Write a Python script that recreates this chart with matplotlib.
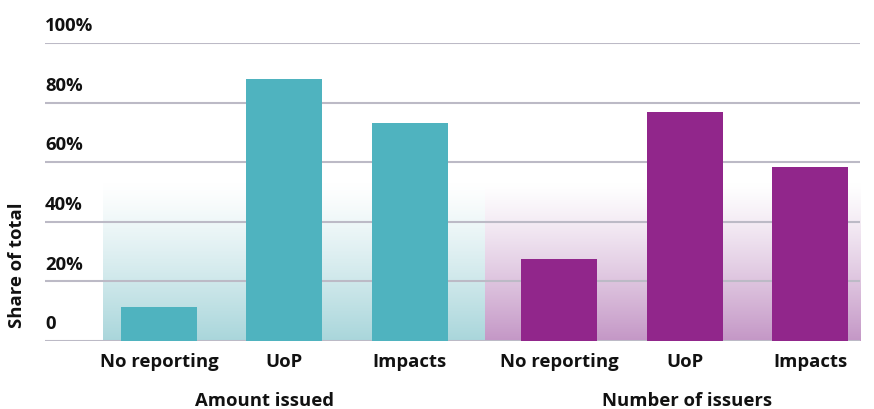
import matplotlib.pyplot as plt
import matplotlib.colors as mcolors
import matplotlib.transforms as mtransforms
import numpy as np

plt.rcParams['font.family'] = ['Open Sans', 'DejaVu Sans']
plt.rcParams['font.weight'] = 'bold'

groups = ["Amount issued", "Number of issuers"]
categories = ["No reporting", "UoP", "Impacts"]
amount_issued = [11.5, 87.9, 73.2]
number_of_issuers = [27.5, 76.8, 58.4]
yticks = [0, 20, 40, 60, 80, 100]
ytick_labels = ["0", "20%", "40%", "60%", "80%", "100%"]

teal = "#4fb3bf"
purple = "#91268b"
grid_col = "#bcbac6"
ink = "#111111"
fs = 13.3

W, H = 874, 410
fig = plt.figure(figsize=(W / 100, H / 100), dpi=100)
ax = fig.add_axes([45 / W, (H - 342) / H, (860 - 45) / W, (342 - 44) / H])

gap = 1.19
x1 = np.arange(3)
x2 = np.arange(3) + 3 + (gap - 1)
bw = 0.605

# faded gradient panels behind each group (white at top -> tint at bottom)
def panel(xa, xb, color, top=53):
    rgb = np.array(mcolors.to_rgb(color))
    t = np.linspace(0, 1, 256)[:, None, None] ** 1.2
    img = 1 - (1 - rgb)[None, None, :] * t
    ax.imshow(img, extent=(xa, xb, 0, top), aspect='auto', zorder=0,
              interpolation='bilinear', origin='upper')

panel(-0.446, 2.594, "#a9d6db")
panel(2.594, 5.586, "#c497c6")
ax.set_xlim(-0.908, 5.586)
ax.set_ylim(0, 100)

for v in yticks:
    ax.axhline(v, color=grid_col, lw=1.5, zorder=1)

ax.bar(x1, amount_issued, width=bw, color=teal, zorder=2)
ax.bar(x2, number_of_issuers, width=bw, color=purple, zorder=2)

for s in ax.spines.values():
    s.set_visible(False)
ax.set_xticks([])
ax.set_yticks([])

trans = mtransforms.blended_transform_factory(ax.transAxes, ax.transData)
for v, lab in zip(yticks, ytick_labels):
    ax.text(0, v + 6.0, lab, transform=trans, ha='left', va='center',
            fontsize=fs, fontweight='bold', color=ink)

lab_trans = mtransforms.blended_transform_factory(ax.transData, fig.transFigure)
for xs in (x1, x2):
    for x, c in zip(xs, categories):
        ax.text(x, 1 - 362 / H, c, transform=lab_trans, ha='center', va='center',
                fontsize=fs, fontweight='bold', color=ink)
ax.text(0.84, 1 - 401 / H, groups[0], transform=lab_trans, ha='center',
        va='center', fontsize=fs, fontweight='bold', color=ink)
ax.text(x2[1] + 0.02, 1 - 401 / H, groups[1], transform=lab_trans, ha='center',
        va='center', fontsize=fs, fontweight='bold', color=ink)

fig.text(17 / W, 1 - 265 / H, "Share of total", rotation=90, ha='center',
         va='center', fontsize=fs, fontweight='bold', color=ink)

fig.savefig("out.png", dpi=100)
